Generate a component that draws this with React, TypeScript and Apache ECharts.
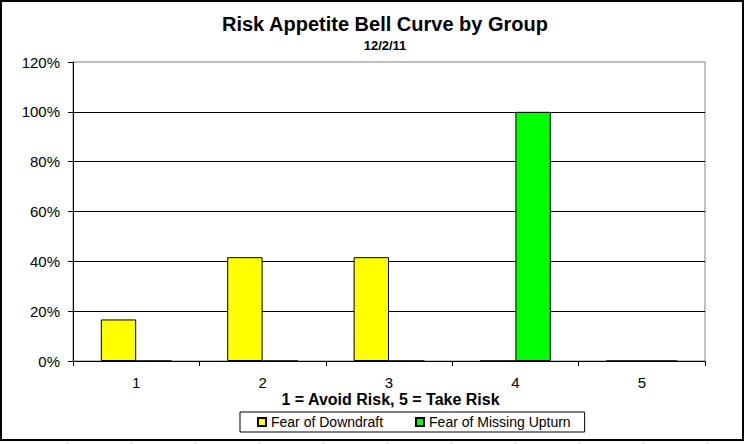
import React, { useEffect, useRef } from "react";
import * as echarts from "echarts";

const categories = ["1", "2", "3", "4", "5"];
const fearOfDowndraft = [16.67, 41.67, 41.67, 0, 0];
const fearOfMissingUpturn = [0, 0, 0, 100, 0];
const seriesNames = ["Fear of Downdraft", "Fear of Missing Upturn"];
const titleText = "Risk Appetite Bell Curve by Group";
const subtitleText = "12/2/11";
const xAxisTitle = "1 = Avoid Risk, 5 = Take Risk";

const FONT = "'Liberation Sans', Arial, sans-serif";

export default function App() {
  const ref = useRef<HTMLDivElement>(null);
  useEffect(() => {
    if (!ref.current) return;
    const chart = echarts.init(ref.current, null, { renderer: "svg" });
    const sheetTicks: any[] = [];
    for (let i = 0; i < 11; i++) {
      const x = 67 + i * 64;
      sheetTicks.push({
        type: "line",
        shape: { x1: x, y1: 442, x2: x, y2: 444 },
        style: { stroke: "#c8c8c8", lineWidth: 1 },
        silent: true,
      });
    }
    chart.setOption({
      animation: false,
      backgroundColor: "#ffffff",
      textStyle: { fontFamily: FONT },
      grid: {
        left: 73,
        right: 40,
        top: 62,
        bottom: 83,
        show: true,
        borderColor: "#808080",
        borderWidth: 1,
        backgroundColor: "#ffffff",
      },
      legend: {
        left: 240,
        top: 412,
        orient: "horizontal",
        padding: [3, 14, 3, 17],
        itemGap: 32,
        itemWidth: 8,
        itemHeight: 8,
        icon: "rect",
        borderColor: "#000",
        borderWidth: 1,
        textStyle: { fontSize: 14, color: "#000", fontFamily: FONT },
        data: seriesNames,
      },
      xAxis: {
        type: "category",
        data: categories,
        boundaryGap: true,
        axisLine: { show: true, lineStyle: { color: "#000", width: 1 } },
        axisTick: { show: true, length: 5, alignWithLabel: false, lineStyle: { color: "#000" } },
        axisLabel: { fontSize: 15, color: "#000", margin: 14, fontFamily: FONT },
        splitLine: { show: false },
      },
      yAxis: {
        type: "value",
        min: 0,
        max: 120,
        interval: 20,
        axisLine: { show: true, lineStyle: { color: "#000", width: 1 } },
        axisTick: { show: true, length: 5, lineStyle: { color: "#000" } },
        axisLabel: { fontSize: 15, color: "#000", margin: 13, formatter: "{value}%", fontFamily: FONT },
        splitLine: { show: true, showMaxLine: false, lineStyle: { color: "#000", width: 1 } },
      },
      series: [
        {
          name: seriesNames[0],
          type: "bar",
          data: fearOfDowndraft,
          barGap: "0%",
          barCategoryGap: "44%",
          itemStyle: { color: "#FFFF00", borderColor: "#000", borderWidth: 1 },
        },
        {
          name: seriesNames[1],
          type: "bar",
          data: fearOfMissingUpturn,
          barGap: "0%",
          barCategoryGap: "44%",
          itemStyle: { color: "#00FF00", borderColor: "#000", borderWidth: 1 },
        },
      ],
      graphic: [
        {
          type: "rect",
          shape: { x: 1, y: 1, width: 742, height: 439 },
          style: { fill: "none", stroke: "#000", lineWidth: 2 },
          silent: true,
          z: 100,
        },
        {
          type: "text",
          x: 385,
          y: 24,
          style: {
            text: titleText,
            fontSize: 20,
            fontWeight: "bold",
            fontFamily: FONT,
            fill: "#000",
            align: "center",
            verticalAlign: "middle",
          },
        },
        {
          type: "text",
          x: 385,
          y: 45.5,
          style: {
            text: subtitleText,
            fontSize: 13,
            fontWeight: "bold",
            fontFamily: FONT,
            fill: "#000",
            align: "center",
            verticalAlign: "middle",
          },
        },
        {
          type: "text",
          x: 390.5,
          y: 399,
          style: {
            text: xAxisTitle,
            fontSize: 16,
            fontWeight: "bold",
            fontFamily: FONT,
            fill: "#000",
            align: "center",
            verticalAlign: "middle",
          },
        },
        ...sheetTicks,
      ],
    });
    return () => chart.dispose();
  }, []);
  return (
    <div
      ref={ref}
      style={{ position: "fixed", left: 0, top: 0, width: 745, height: 444 }}
    />
  );
}
